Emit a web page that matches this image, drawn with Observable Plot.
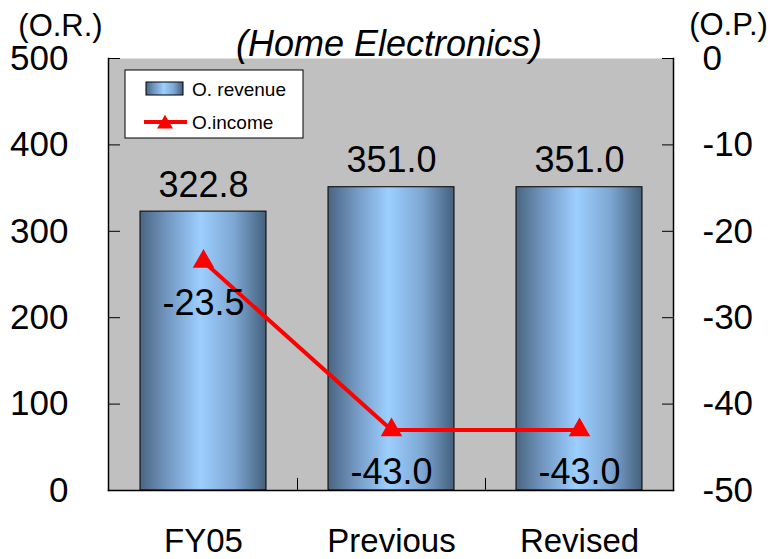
<!DOCTYPE html>
<html>
<head>
<meta charset="utf-8">
<script src="https://cdn.jsdelivr.net/npm/d3@7"></script>
<script src="https://cdn.jsdelivr.net/npm/@observablehq/plot@0.6"></script>
<style>
  html, body { margin: 0; padding: 0; background: #fff; }
  svg { display: block; }
</style>
</head>
<body>
<div id="chart"></div>
<script>
const categories = ["FY05", "Previous", "Revised"];
const revenue = [322.8, 351.0, 351.0];
const income = [-23.5, -43.0, -43.0];
const leftTicks = [0, 100, 200, 300, 400, 500];
const rightTicks = [0, -10, -20, -30, -40, -50];
const title = "(Home Electronics)";
const leftUnit = "(O.R.)";
const rightUnit = "(O.P.)";
const legendLabels = ["O. revenue", "O.income"];

// right axis (income, -50..0) mapped onto left axis (revenue, 0..500)
const toLeft = v => (v + 50) * 10;
const fromLeft = d => Math.round(d / 10 - 50);

const idx = categories.map((_, i) => i);
const FONT = "'Liberation Sans', Arial, Helvetica, sans-serif";

const chart = Plot.plot({
  width: 775,
  height: 559,
  marginLeft: 108,
  marginRight: 102,
  marginTop: 58,
  marginBottom: 69,
  style: { fontFamily: FONT, fontSize: "35px", background: "#fff", color: "#000" },
  x: { domain: categories, paddingInner: 0.33, paddingOuter: 0.165, axis: null },
  y: { domain: [0, 500], axis: null },
  marks: [
    Plot.frame({ fill: "#c0c0c0", stroke: "none" }),
    Plot.barY(idx, {
      x: i => categories[i], y: i => revenue[i],
      fill: "url(#barGrad)", stroke: "#000", strokeWidth: 1
    }),
    Plot.ruleX(categories.slice(0, -1), { x: d => d, dx: 94, y1: 0, y2: 14, stroke: "#000", strokeWidth: 1 }),
    Plot.frame({ anchor: "left", stroke: "#000", strokeWidth: 1.5 }),
    Plot.frame({ anchor: "right", stroke: "#000", strokeWidth: 1.5 }),
    Plot.frame({ anchor: "bottom", stroke: "#000", strokeWidth: 1.5 }),
    // left axis
    Plot.axisY({ anchor: "left", ticks: leftTicks, tickSize: 12, dx: 12, text: null, stroke: "#000" }),
    Plot.axisY({ anchor: "left", ticks: leftTicks, tickSize: 0, tickPadding: 40, fontSize: 35, tickFormat: d => String(d) }),
    // right axis
    Plot.axisY({ anchor: "right", ticks: rightTicks.map(toLeft), tickSize: 12, dx: -12, text: null, stroke: "#000" }),
    Plot.axisY({ anchor: "right", ticks: rightTicks.map(toLeft), tickSize: 0, tickPadding: 29, fontSize: 35, tickFormat: d => String(fromLeft(d)) }),
    // x axis labels
    Plot.axisX({ domain: categories, tickSize: 0, tickPadding: 38, fontSize: 33, label: null }),
    // bar value labels
    Plot.text(idx, {
      x: i => categories[i], y: i => revenue[i], text: i => revenue[i].toFixed(1),
      dy: -15, lineAnchor: "bottom", fontSize: 36, fill: "#000"
    }),
    // income line
    Plot.line(idx, {
      x: i => categories[i], y: i => toLeft(income[i]),
      stroke: "#ff0000", strokeWidth: 4
    }),
    Plot.dot(idx, {
      x: i => categories[i], y: i => toLeft(income[i]),
      symbol: "triangle", r: 8, fill: "#ff0000", stroke: "none"
    }),
    Plot.text(idx, {
      x: i => categories[i], y: i => toLeft(income[i]), text: i => income[i].toFixed(1),
      dy: 42, lineAnchor: "middle", fontSize: 36, fill: "#000"
    }),
    // title and unit labels
    Plot.text([title], { frameAnchor: "top", dx: -2, dy: -3, lineAnchor: "bottom", fontSize: 36, fontStyle: "italic", text: d => d }),
    Plot.text([leftUnit], { frameAnchor: "top-left", dx: -48, dy: -23, textAnchor: "middle", lineAnchor: "bottom", fontSize: 31, text: d => d }),
    Plot.text([rightUnit], { frameAnchor: "top-right", dx: 55, dy: -24, textAnchor: "middle", lineAnchor: "bottom", fontSize: 31, text: d => d })
  ]
});

document.getElementById("chart").appendChild(chart);

// gradient definitions
const svg = d3.select(chart);
const defs = svg.insert("defs", ":first-child");
const grad = defs.append("linearGradient").attr("id", "barGrad")
  .attr("x1", "0").attr("x2", "1").attr("y1", "0").attr("y2", "0");
[[0, "#4a6582"], [0.22, "#7398c2"], [0.48, "#9ccfff"], [0.75, "#7ea6d2"], [1, "#44607c"]]
  .forEach(([o, c]) => grad.append("stop").attr("offset", o).attr("stop-color", c));

// legend
const lg = svg.append("g").attr("font-family", FONT).attr("text-anchor", "start");
lg.append("rect").attr("x", 125).attr("y", 70).attr("width", 178).attr("height", 68)
  .attr("fill", "#fff").attr("stroke", "#000").attr("stroke-width", 1);
lg.append("rect").attr("x", 146).attr("y", 82).attr("width", 37).attr("height", 13)
  .attr("fill", "url(#barGrad)").attr("stroke", "#000").attr("stroke-width", 1);
lg.append("line").attr("x1", 144).attr("x2", 187).attr("y1", 122).attr("y2", 122)
  .attr("stroke", "#ff0000").attr("stroke-width", 4);
lg.append("path").attr("transform", "translate(165,124)")
  .attr("d", d3.symbol(d3.symbolTriangle, 110)()).attr("fill", "#ff0000");
lg.selectAll("text.lt").data(legendLabels).join("text")
  .attr("x", 192).attr("y", (d, i) => i === 0 ? 89 : 122)
  .attr("dy", "0.35em").attr("font-size", 19).attr("fill", "#000")
  .attr("text-anchor", "start").text(d => d);
</script>
</body>
</html>
